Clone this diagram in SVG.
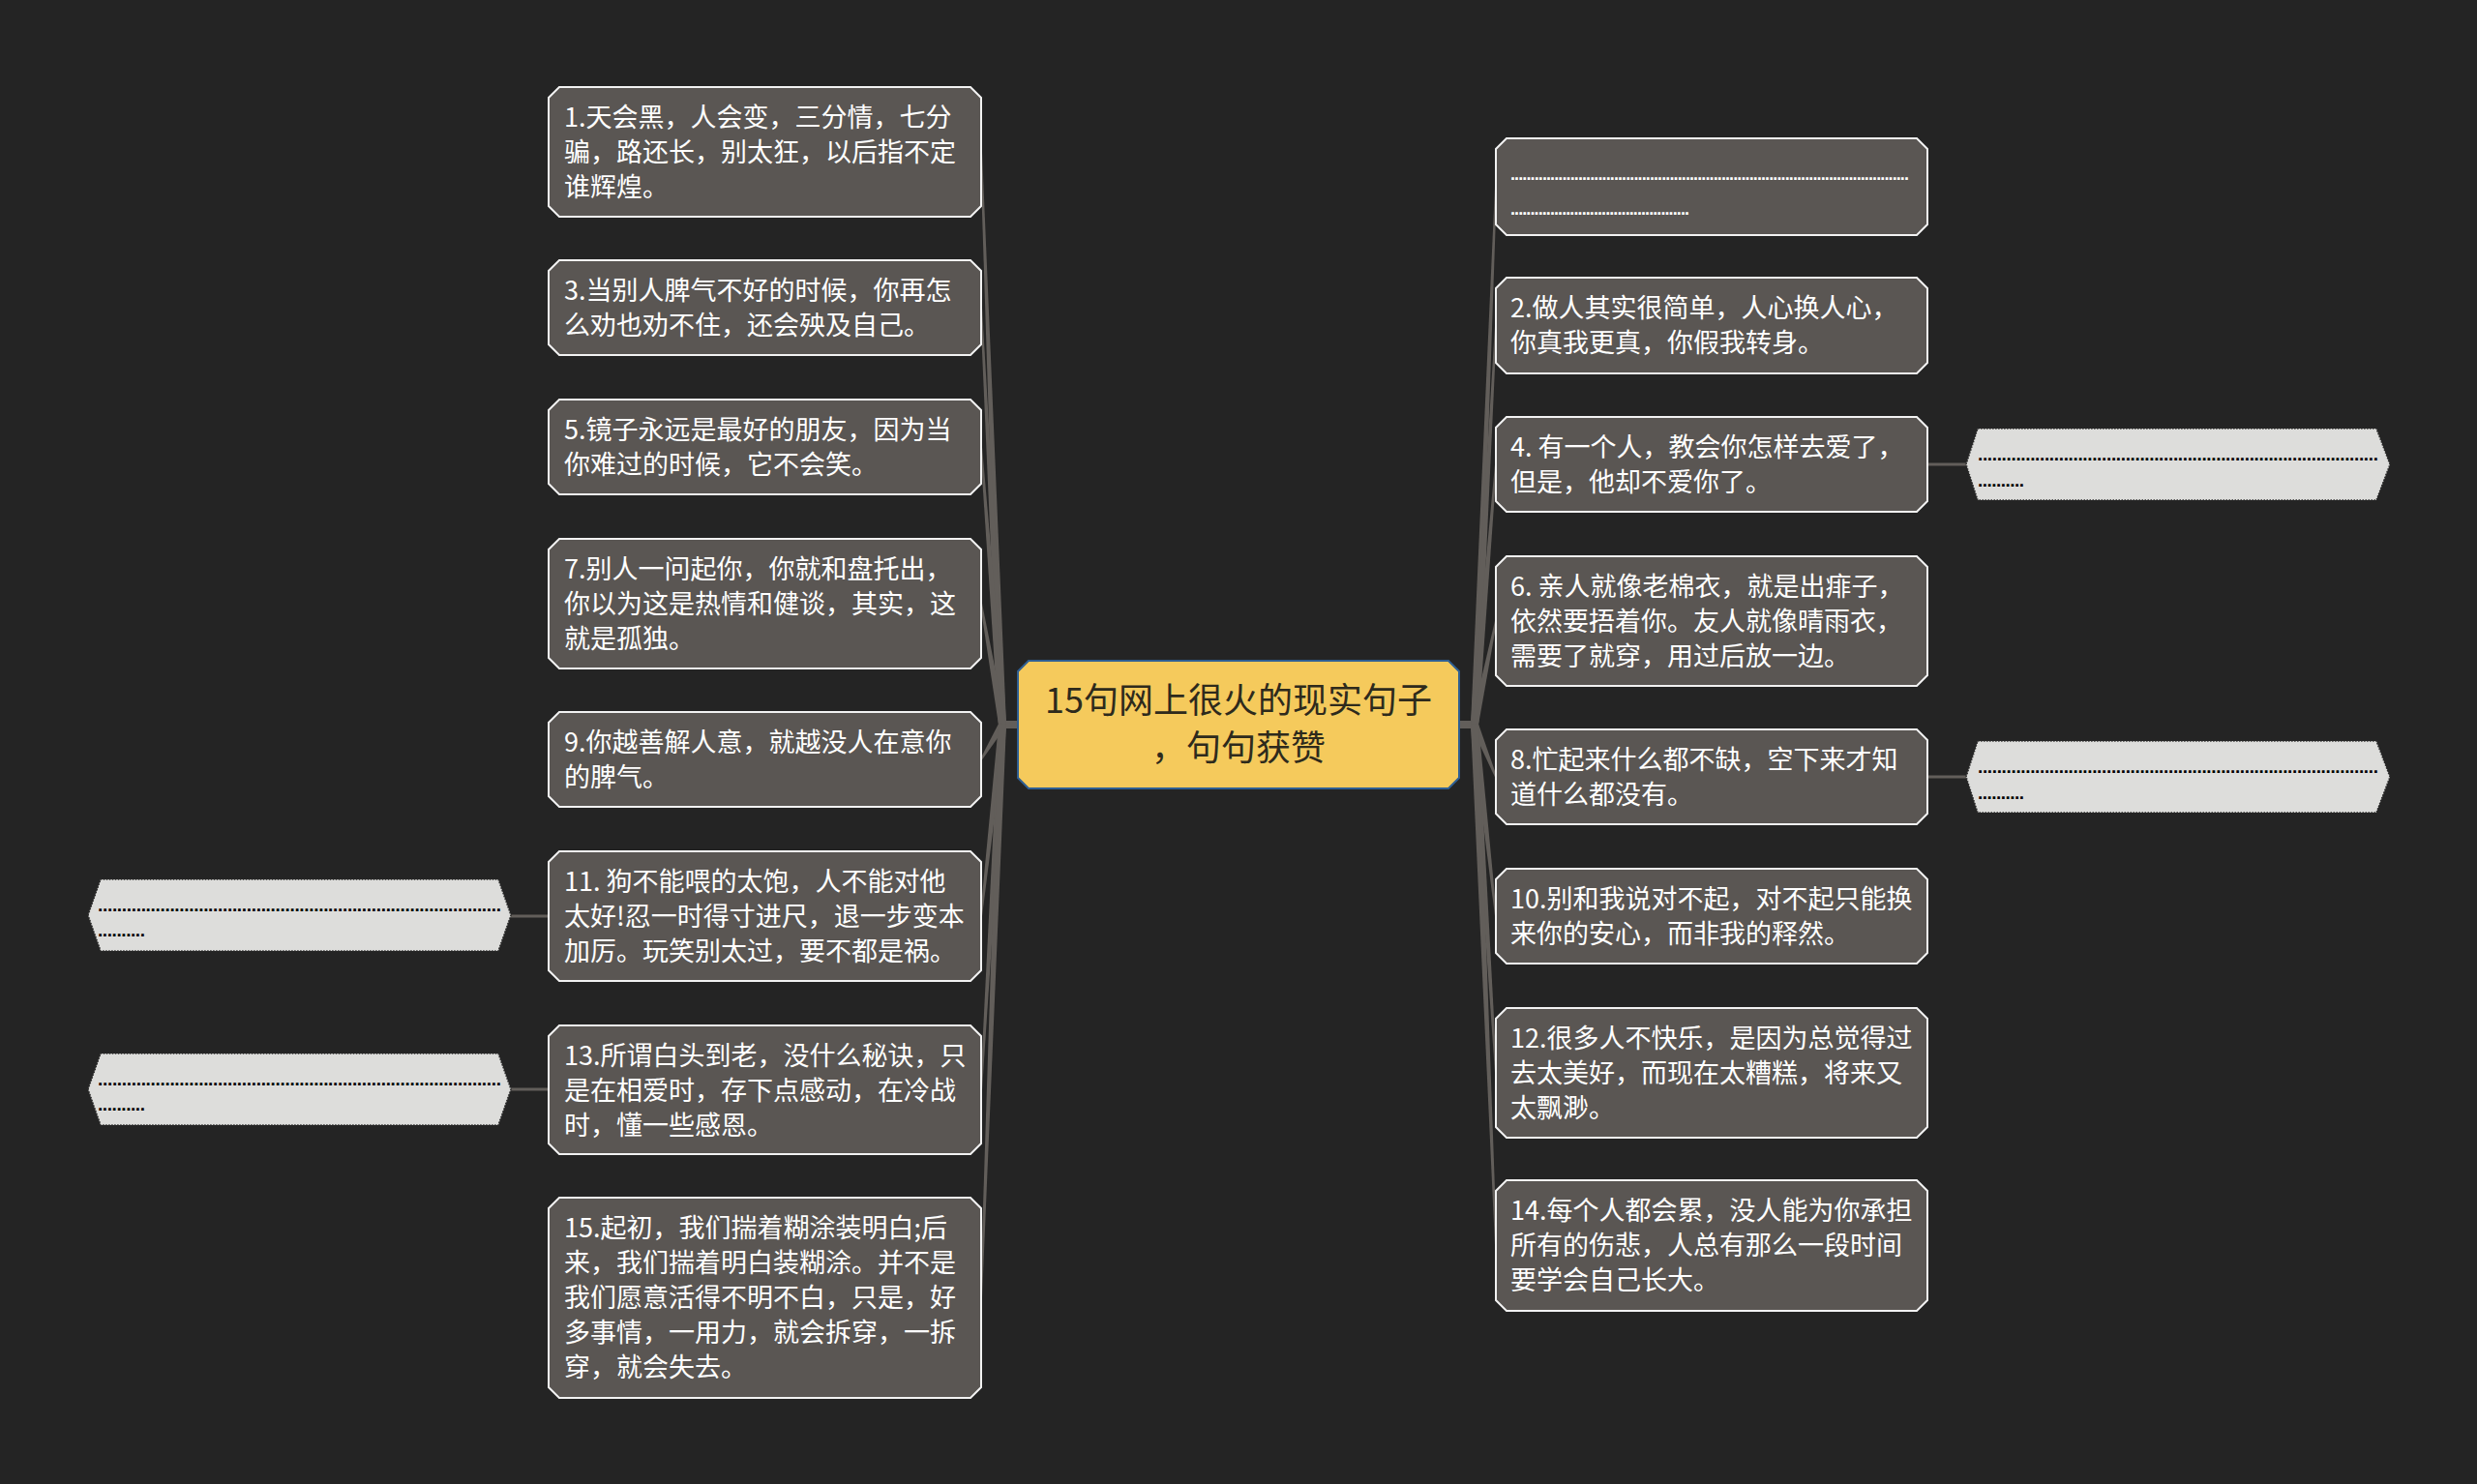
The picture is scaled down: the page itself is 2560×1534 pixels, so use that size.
<svg xmlns="http://www.w3.org/2000/svg" width="2560" height="1534" viewBox="0 0 2560 1534">
<style>
.bg{fill:#242424}
.n{fill:#5a5653;stroke:#f2f2f2;stroke-width:2}
.c{fill:#f5ca5c;stroke:#2f5f93;stroke-width:2}
.l{fill:#dddddb;stroke:#2a2a2a;stroke-width:1.5;stroke-dasharray:1.5 1.5}
.t{font-family:"Microsoft YaHei","Noto Sans CJK SC",sans-serif;font-size:27px;fill:#ffffff}
.ct{font-family:"Microsoft YaHei","Noto Sans CJK SC",sans-serif;font-size:36px;fill:#2e2a1c;text-anchor:middle}
.d{font-family:"Liberation Sans",sans-serif;font-size:18px;font-weight:bold;fill:#ffffff}
.dk{font-family:"Liberation Sans",sans-serif;font-size:19px;font-weight:bold;fill:#000000}
.w{fill:#625e5a}
.s{stroke:#625e5a;stroke-width:3;fill:none}
</style>
<rect class="bg" x="0" y="0" width="2560" height="1534"/>
<g id="connectors">
<rect class="w" x="1034" y="745" width="20" height="8"/>
<rect class="w" x="1506" y="745" width="20" height="8"/>
<polygon class="w" points="1032,749 1013,157 1015,157 1040,749"/>
<polygon class="w" points="1032,749 1013,318 1015,318 1040,749"/>
<polygon class="w" points="1032,749.3 1013,462.1 1015,461.9 1040,748.7"/>
<polygon class="w" points="1032.1,749.7 1013,624.2 1015,623.8 1039.9,748.3"/>
<polygon class="w" points="1039.4,751.1 1014.9,785.5 1013.2,784.5 1032.6,746.9"/>
<polygon class="w" points="1040,749.4 1015,947.1 1013,946.9 1032,748.6"/>
<polygon class="w" points="1040,749 1015,1126.5 1013,1126.5 1032,749"/>
<polygon class="w" points="1040,749 1015,1341 1013,1341 1032,749"/>
<polygon class="w" points="1520,749 1545,193 1547,193 1528,749"/>
<polygon class="w" points="1520,749 1545,336.5 1547,336.5 1528,749"/>
<polygon class="w" points="1520,749 1545,480 1547,480 1528,749"/>
<polygon class="w" points="1520.1,748.2 1545,641.8 1547,642.2 1527.9,749.8"/>
<polygon class="w" points="1527.7,747.5 1546.9,802.6 1545.1,803.4 1520.3,750.5"/>
<polygon class="w" points="1528,748.6 1547,946.9 1545,947.1 1520,749.4"/>
<polygon class="w" points="1528,749 1547,1109 1545,1109 1520,749"/>
<polygon class="w" points="1528,749 1547,1287 1545,1287 1520,749"/>
<line class="s" x1="1992" y1="480" x2="2033" y2="480"/>
<line class="s" x1="1992" y1="803" x2="2033" y2="803"/>
<line class="s" x1="527" y1="947" x2="567" y2="947"/>
<line class="s" x1="527" y1="1126" x2="567" y2="1126"/>
</g>
<g id="center">
<polygon class="c" points="1063,683 1497,683 1508,694 1508,804 1497,815 1063,815 1052,804 1052,694"/>
<text class="ct" x="1280" y="737">15句网上很火的现实句子</text>
<text class="ct" x="1280" y="786">，句句获赞</text>
</g>
<g id="n1">
<polygon class="n" points="578,90 1003,90 1014,101 1014,213 1003,224 578,224 567,213 567,101"/>
<text class="t" x="583" y="131">1.天会黑，人会变，三分情，七分</text>
<text class="t" x="583" y="167">骗，路还长，别太狂，以后指不定</text>
<text class="t" x="583" y="203">谁辉煌。</text>
</g>
<g id="n3">
<polygon class="n" points="578,269 1003,269 1014,280 1014,356 1003,367 578,367 567,356 567,280"/>
<text class="t" x="583" y="310">3.当别人脾气不好的时候，你再怎</text>
<text class="t" x="583" y="346">么劝也劝不住，还会殃及自己。</text>
</g>
<g id="n5">
<polygon class="n" points="578,413 1003,413 1014,424 1014,500 1003,511 578,511 567,500 567,424"/>
<text class="t" x="583" y="454">5.镜子永远是最好的朋友，因为当</text>
<text class="t" x="583" y="490">你难过的时候，它不会笑。</text>
</g>
<g id="n7">
<polygon class="n" points="578,557 1003,557 1014,568 1014,680 1003,691 578,691 567,680 567,568"/>
<text class="t" x="583" y="598">7.别人一问起你，你就和盘托出，</text>
<text class="t" x="583" y="634">你以为这是热情和健谈，其实，这</text>
<text class="t" x="583" y="670">就是孤独。</text>
</g>
<g id="n9">
<polygon class="n" points="578,736 1003,736 1014,747 1014,823 1003,834 578,834 567,823 567,747"/>
<text class="t" x="583" y="777">9.你越善解人意，就越没人在意你</text>
<text class="t" x="583" y="813">的脾气。</text>
</g>
<g id="n11">
<polygon class="n" points="578,880 1003,880 1014,891 1014,1003 1003,1014 578,1014 567,1003 567,891"/>
<text class="t" x="583" y="921">11. 狗不能喂的太饱，人不能对他</text>
<text class="t" x="583" y="957">太好!忍一时得寸进尺，退一步变本</text>
<text class="t" x="583" y="993">加厉。玩笑别太过，要不都是祸。</text>
</g>
<g id="n11c">
<polygon class="l" points="91,946 104,909 515,909 528,946 515,983 104,983"/>
<text class="dk" x="101" y="942" textLength="417" lengthAdjust="spacing">....................................................................................</text>
<text class="dk" x="101" y="968" textLength="49" lengthAdjust="spacing">..........</text>
</g>
<g id="n13">
<polygon class="n" points="578,1060 1003,1060 1014,1071 1014,1182 1003,1193 578,1193 567,1182 567,1071"/>
<text class="t" x="583" y="1101">13.所谓白头到老，没什么秘诀，只</text>
<text class="t" x="583" y="1137">是在相爱时，存下点感动，在冷战</text>
<text class="t" x="583" y="1173">时，懂一些感恩。</text>
</g>
<g id="n13c">
<polygon class="l" points="91,1126 104,1089 515,1089 528,1126 515,1163 104,1163"/>
<text class="dk" x="101" y="1122" textLength="417" lengthAdjust="spacing">....................................................................................</text>
<text class="dk" x="101" y="1148" textLength="49" lengthAdjust="spacing">..........</text>
</g>
<g id="n15">
<polygon class="n" points="578,1238 1003,1238 1014,1249 1014,1434 1003,1445 578,1445 567,1434 567,1249"/>
<text class="t" x="583" y="1279">15.起初，我们揣着糊涂装明白;后</text>
<text class="t" x="583" y="1315">来，我们揣着明白装糊涂。并不是</text>
<text class="t" x="583" y="1351">我们愿意活得不明不白，只是，好</text>
<text class="t" x="583" y="1387">多事情，一用力，就会拆穿，一拆</text>
<text class="t" x="583" y="1423">穿，就会失去。</text>
</g>
<g id="r0">
<polygon class="n" points="1557,143 1981,143 1992,154 1992,232 1981,243 1557,243 1546,232 1546,154"/>
<text class="d" x="1561" y="186" textLength="412" lengthAdjust="spacing">....................................................................................................</text>
<text class="d" x="1561" y="222" textLength="185" lengthAdjust="spacing">.............................................</text>
</g>
<g id="n2">
<polygon class="n" points="1557,287 1981,287 1992,298 1992,375 1981,386 1557,386 1546,375 1546,298"/>
<text class="t" x="1561" y="328">2.做人其实很简单，人心换人心，</text>
<text class="t" x="1561" y="364">你真我更真，你假我转身。</text>
</g>
<g id="n4">
<polygon class="n" points="1557,431 1981,431 1992,442 1992,518 1981,529 1557,529 1546,518 1546,442"/>
<text class="t" x="1561" y="472">4. 有一个人，教会你怎样去爱了，</text>
<text class="t" x="1561" y="508">但是，他却不爱你了。</text>
</g>
<g id="n4c">
<polygon class="l" points="2032,480 2044,443 2456,443 2470,480 2456,517 2044,517"/>
<text class="dk" x="2044" y="476" textLength="414" lengthAdjust="spacing">....................................................................................</text>
<text class="dk" x="2044" y="503" textLength="48" lengthAdjust="spacing">..........</text>
</g>
<g id="n6">
<polygon class="n" points="1557,575 1981,575 1992,586 1992,698 1981,709 1557,709 1546,698 1546,586"/>
<text class="t" x="1561" y="616">6. 亲人就像老棉衣，就是出痱子，</text>
<text class="t" x="1561" y="652">依然要捂着你。友人就像晴雨衣，</text>
<text class="t" x="1561" y="688">需要了就穿，用过后放一边。</text>
</g>
<g id="n8">
<polygon class="n" points="1557,754 1981,754 1992,765 1992,841 1981,852 1557,852 1546,841 1546,765"/>
<text class="t" x="1561" y="795">8.忙起来什么都不缺，空下来才知</text>
<text class="t" x="1561" y="831">道什么都没有。</text>
</g>
<g id="n8c">
<polygon class="l" points="2032,803 2044,766 2456,766 2470,803 2456,840 2044,840"/>
<text class="dk" x="2044" y="799" textLength="414" lengthAdjust="spacing">....................................................................................</text>
<text class="dk" x="2044" y="826" textLength="48" lengthAdjust="spacing">..........</text>
</g>
<g id="n10">
<polygon class="n" points="1557,898 1981,898 1992,909 1992,985 1981,996 1557,996 1546,985 1546,909"/>
<text class="t" x="1561" y="939">10.别和我说对不起，对不起只能换</text>
<text class="t" x="1561" y="975">来你的安心，而非我的释然。</text>
</g>
<g id="n12">
<polygon class="n" points="1557,1042 1981,1042 1992,1053 1992,1165 1981,1176 1557,1176 1546,1165 1546,1053"/>
<text class="t" x="1561" y="1083">12.很多人不快乐，是因为总觉得过</text>
<text class="t" x="1561" y="1119">去太美好，而现在太糟糕，将来又</text>
<text class="t" x="1561" y="1155">太飘渺。</text>
</g>
<g id="n14">
<polygon class="n" points="1557,1220 1981,1220 1992,1231 1992,1344 1981,1355 1557,1355 1546,1344 1546,1231"/>
<text class="t" x="1561" y="1261">14.每个人都会累，没人能为你承担</text>
<text class="t" x="1561" y="1297">所有的伤悲，人总有那么一段时间</text>
<text class="t" x="1561" y="1333">要学会自己长大。</text>
</g>
</svg>
